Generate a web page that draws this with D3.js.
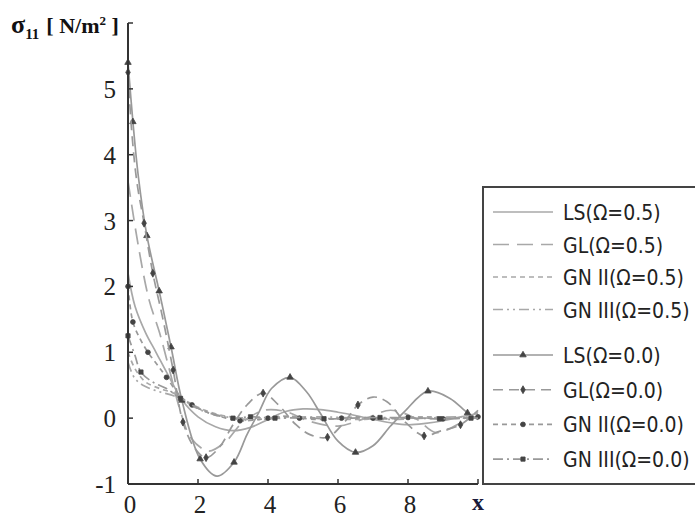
<!DOCTYPE html>
<html>
<head>
<meta charset="utf-8">
<script src="https://cdnjs.cloudflare.com/ajax/libs/d3/7.8.5/d3.min.js"></script>
<style>
  body { margin: 0; background: #fff; }
  svg { display: block; }
  .tick-label { font-family: "Liberation Serif", "Times New Roman", serif; font-size: 25px; fill: #222; }
  .leg-text { font-family: "Liberation Sans Narrow", "DejaVu Sans Condensed", sans-serif; font-size: 21px; fill: #222; }
</style>
</head>
<body>
<svg id="chart" width="695" height="522"></svg>
<script>
// series: [x, sigma11, marker?]
var seriesNames = ["LS(\u03A9=0.5)", "GL(\u03A9=0.5)", "GN II(\u03A9=0.5)", "GN III(\u03A9=0.5)",
                   "LS(\u03A9=0.0)", "GL(\u03A9=0.0)", "GN II(\u03A9=0.0)", "GN III(\u03A9=0.0)"];

var ls05 = [[0,2.2],[0.2,1.7],[0.5,1.3],[0.8,1.0],[1.2,0.6],[1.55,0.27],[2.0,0.02],[2.5,-0.13],[3.0,-0.19],[3.5,-0.14],[4.0,-0.02],[4.5,0.1],[5.0,0.14],[5.5,0.13],[6.0,0.09],[6.5,0.04],[7.0,-0.02],[7.5,-0.07],[8.0,-0.1],[8.5,-0.08],[9.0,-0.04],[9.5,0.02],[10,0.07]];
var gl05 = [[0,3.6],[0.3,2.6],[0.6,1.8],[0.9,1.3],[1.2,0.7],[1.5,0.1],[1.8,-0.3],[2.3,-0.5],[2.8,-0.35],[3.3,-0.05],[3.9,0.12],[4.5,0.1],[5.2,-0.05],[6.0,-0.12],[6.8,0.0],[7.5,0.12],[8.2,0.0],[8.8,-0.22],[9.4,-0.1],[10,0.1]];
var gn2_05 = [[0,1.0],[0.2,0.75],[0.5,0.55],[0.9,0.45],[1.3,0.38],[1.7,0.25],[2.2,0.12],[2.8,0.03],[3.5,0.0],[4.5,0.03],[5.5,0.0],[6.5,-0.02],[7.5,0.0],[8.5,0.02],[9.5,0.0],[10,0.0]];
var gn3_05 = [[0,0.85],[0.2,0.6],[0.5,0.48],[0.9,0.4],[1.3,0.34],[1.7,0.22],[2.2,0.1],[2.8,0.02],[3.5,-0.02],[4.5,0.0],[5.5,0.02],[6.5,0.0],[7.5,-0.02],[8.5,0.0],[9.5,0.02],[10,0.0]];

var ls00 = [[0,5.4,1],[0.14,4.5,1],[0.3,3.65],[0.54,2.77,1],[0.89,1.93,1],[1.23,1.08,1],[1.54,0.27,1],[2.06,-0.62,1],[2.54,-0.88],[3.03,-0.67,1],[3.4,-0.25],[3.75,0.1],[4.1,0.45],[4.63,0.62,1],[5.1,0.4],[5.5,0.07],[6.0,-0.35],[6.5,-0.52,1],[7.0,-0.42],[7.5,-0.12],[7.9,0.1],[8.57,0.41,1],[9.2,0.3],[9.7,0.08,1],[10,-0.02]];
var gl00 = [[0,5.25,1],[0.1,4.4],[0.25,3.6],[0.46,2.96,1],[0.71,2.2,1],[1.0,1.5],[1.29,0.73,1],[1.57,-0.06,1],[1.9,-0.45],[2.23,-0.6,1],[2.6,-0.45],[3.0,-0.1],[3.4,0.2],[3.86,0.38,1],[4.3,0.2],[4.8,-0.1],[5.2,-0.25],[5.7,-0.29,1],[6.2,-0.05],[6.57,0.2,1],[7.0,0.32],[7.4,0.25],[7.9,-0.05],[8.46,-0.27,1],[8.9,-0.2],[9.5,-0.1,1],[10,0.12]];
var gn2_00 = [[0,2.0,1],[0.14,1.46,1],[0.35,1.2],[0.57,1.0,1],[0.85,0.8],[1.1,0.62,1],[1.5,0.33],[1.83,0.2,1],[2.3,0.08],[2.8,0.0],[3.2,-0.04,1],[3.6,-0.03],[4.0,0.0,1],[4.5,0.02],[4.9,0.0,1],[5.5,-0.02],[6.1,0.0,1],[6.5,0.02],[7.0,0.0,1],[7.5,-0.01],[8.0,0.01,1],[8.5,0.0],[9.0,-0.01,1],[9.5,0.0],[10,0.02,1]];
var gn3_00 = [[0,1.25,1],[0.2,0.95],[0.37,0.7,1],[0.7,0.55],[1.1,0.45],[1.5,0.3,1],[2.0,0.15],[2.5,0.05],[3.0,0.0,1],[3.5,0.02,1],[4.2,0.0,1],[5.0,0.01],[5.6,-0.01,1],[6.4,0.0],[7.2,0.01,1],[8.2,0.0],[8.9,-0.01,1],[9.8,0.0,1],[10,0.0]];

var xTicks = [0, 2, 4, 6, 8, 10];
var yTicks = [-1, 0, 1, 2, 3, 4, 5, 6];
var yLabels = [-1, 0, 1, 2, 3, 4, 5];

var svg = d3.select("#chart");
var x = d3.scaleLinear().domain([0, 10]).range([128, 478]);
var y = d3.scaleLinear().domain([-1, 6]).range([484, 23]);

var styles = [
  {data: ls05,  dash: null,            color: "#a8a8a8", mark: null},
  {data: gl05,  dash: "16,8",          color: "#a8a8a8", mark: null},
  {data: gn2_05, dash: "5,4",          color: "#a8a8a8", mark: null},
  {data: gn3_05, dash: "10,4,2,4,2,4", color: "#a8a8a8", mark: null},
  {data: ls00,  dash: null,            color: "#999", mark: d3.symbolTriangle},
  {data: gl00,  dash: "10,6",          color: "#999", mark: d3.symbolDiamond},
  {data: gn2_00, dash: "5,4",          color: "#999", mark: d3.symbolCircle},
  {data: gn3_00, dash: "10,4,2,4",     color: "#999", mark: d3.symbolSquare}
];

var line = d3.line().x(d => x(d[0])).y(d => y(d[1])).curve(d3.curveCatmullRom);

styles.forEach(function (s) {
  svg.append("path").attr("d", line(s.data))
    .attr("fill", "none").attr("stroke", s.color).attr("stroke-width", 1.7)
    .attr("stroke-dasharray", s.dash);
  if (s.mark) {
    svg.selectAll(null).data(s.data.filter(d => d[2])).enter().append("path")
      .attr("d", d3.symbol().type(s.mark).size(18))
      .attr("transform", d => "translate(" + x(d[0]) + "," + y(d[1]) + ")")
      .attr("fill", "#444").attr("stroke", "#444").attr("stroke-width", 0.8);
  }
});

// axes
svg.append("line").attr("x1", x(0)).attr("x2", x(0)).attr("y1", y(6)).attr("y2", y(-1))
  .attr("stroke", "#333").attr("stroke-width", 2);
svg.append("line").attr("x1", x(0)).attr("x2", x(10)).attr("y1", y(-1)).attr("y2", y(-1))
  .attr("stroke", "#333").attr("stroke-width", 2);
svg.selectAll(null).data(yTicks).enter().append("line")
  .attr("x1", x(0)).attr("x2", x(0) + 5).attr("y1", d => y(d)).attr("y2", d => y(d))
  .attr("stroke", "#333").attr("stroke-width", 1.5);
svg.selectAll(null).data(xTicks).enter().append("line")
  .attr("x1", d => x(d)).attr("x2", d => x(d)).attr("y1", y(-1)).attr("y2", y(-1) - 5)
  .attr("stroke", "#333").attr("stroke-width", 1.5);
svg.selectAll(null).data(yLabels).enter().append("text").attr("class", "tick-label")
  .attr("x", x(0) - 12).attr("y", d => y(d) + 9).attr("text-anchor", "end").text(d => d);
svg.selectAll(null).data(xTicks.slice(0, 5)).enter().append("text").attr("class", "tick-label")
  .attr("x", d => x(d) + 2).attr("y", 513).attr("text-anchor", "middle").text(d => d);

svg.append("text").attr("x", x(10)).attr("y", 510).attr("text-anchor", "middle")
  .style("font", "bold 24px 'Liberation Serif', serif").attr("fill", "#1a1a3a").text("x");

var yl = svg.append("text").attr("x", 11).attr("y", 33)
  .style("font", "bold 22px 'Liberation Serif', serif").attr("fill", "#111");
yl.append("tspan").style("font-size", "26px").text("\u03C3");
yl.append("tspan").attr("dy", 6).style("font-size", "15px").text("11");
yl.append("tspan").attr("dy", -6).attr("dx", 7).text("[ N/m");
yl.append("tspan").attr("dy", -8).style("font-size", "13px").text("2");
yl.append("tspan").attr("dy", 8).text(" ]");

// legend
svg.append("path").attr("d", "M696,187 H483 V484 H696")
  .attr("fill", "#fff").attr("stroke", "#444").attr("stroke-width", 2);
var legY = d3.range(8).map(i => i < 4 ? 212 + i * 32.5 : 355 + (i - 4) * 34.7);
styles.forEach(function (s, i) {
  svg.append("line").attr("x1", 493).attr("x2", 553).attr("y1", legY[i]).attr("y2", legY[i])
    .attr("stroke", s.color).attr("stroke-width", 1.6).attr("stroke-dasharray", s.dash);
  if (s.mark) {
    svg.append("path").attr("d", d3.symbol().type(s.mark).size(18)())
      .attr("transform", "translate(523," + legY[i] + ")")
      .attr("fill", "#444").attr("stroke", "#444").attr("stroke-width", 0.8);
  }
  svg.append("text").attr("class", "leg-text").attr("x", 563).attr("y", legY[i] + 8).text(seriesNames[i]);
});
</script>
</body>
</html>
